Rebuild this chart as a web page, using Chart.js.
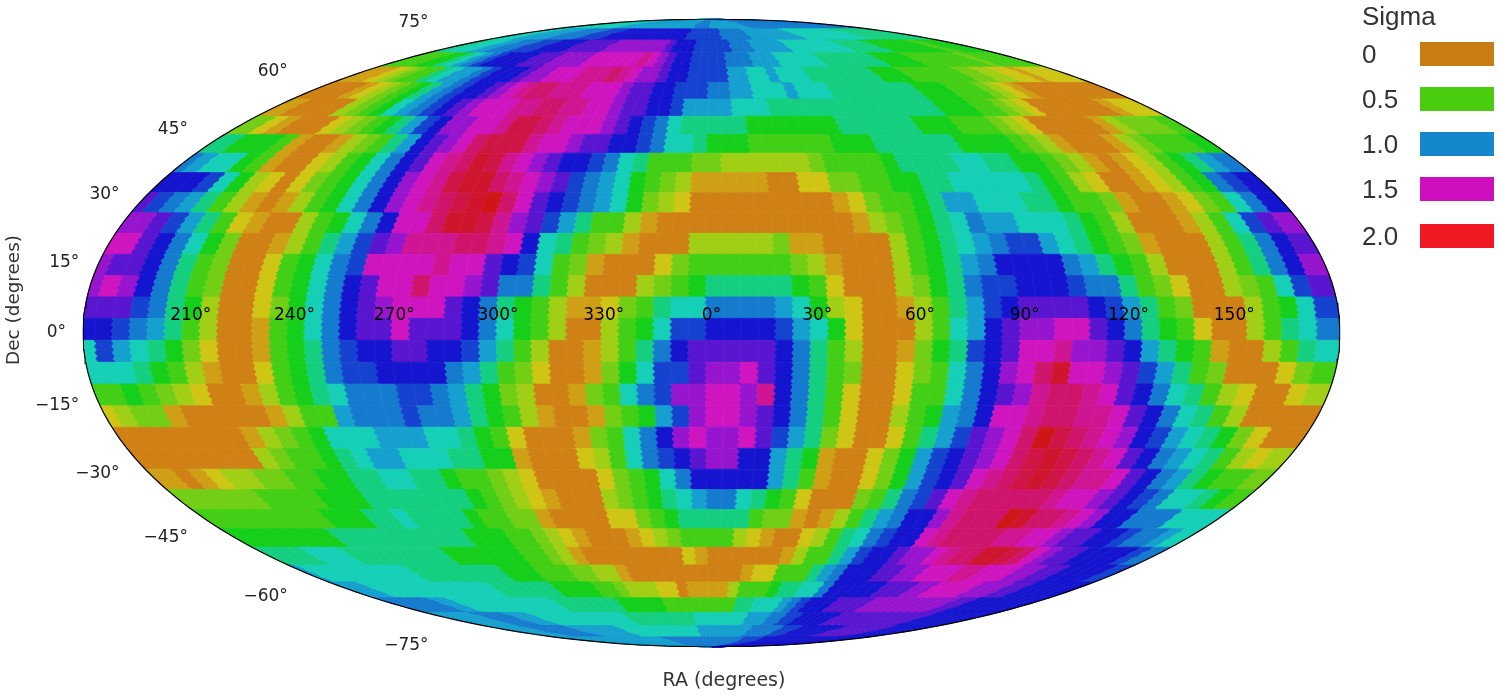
<!DOCTYPE html>
<html>
<head>
<meta charset="utf-8">
<title>Sigma map</title>
<script src="https://cdn.jsdelivr.net/npm/chart.js@4"></script>
<style>
  html, body { margin: 0; padding: 0; background: #fff; }
  #wrap { position: relative; width: 1500px; height: 698px; overflow: hidden; }
  canvas { position: absolute; left: 0; top: 0; }
  .leg { position: absolute; left: 1362px; font: 26px "Liberation Sans", Arial, sans-serif; color: #333; line-height: 30px; height: 30px; }
  .swatch { position: absolute; left: 1420px; width: 74px; height: 24px; }
</style>
</head>
<body>
<div id="wrap">
  <canvas id="map" width="1500" height="698"></canvas>
</div>
<script>
// declination band edges, north to south (degrees)
const decEdges = [90, 83.4, 78.4, 73.4, 68.4, 63.4, 58.4, 53.4, 48.4, 43.4, 38.4, 33.4, 28.4, 23.4, 18.4, 13.4, 8.4, 3.4,
  -1.7, -6.8, -11.9, -17, -22.1, -27.2, -32.3, -37.4, -42.5, -47.6, -52.7, -57.8, -62.9, -68, -73.1, -78.2, -83.3, -90];

// RA column edges, centred on RA 0 (degrees)
const raEdges = [-180];
for (let c = 1; c < 72; c++) raEdges.push(-181.6 + 5 * c);
raEdges.push(180);

// sigma x 10 for each declination band, left to right (RA 180 -> 0 -> 180)
const sigma10 = [
  [8,8,8,8,8,8,8,8,8,8,8,8,8,9,9,9,9,9,9,9,9,9,9,9,9,9,9,9,9,9,9,9,10,10,10,10, 9,9,9,9,9,9,9,9,9,9,10,10,10,10,10,10,10,10,10,10,10,10,10,10,10,10,10,10,10,10,10,10,10,10,10,10],
  [8,8,8,8,9,9,9,9,9,10,10,10,10,10,11,11,11,11,12,12,12,12,12,12,12,12,12,12,12,12,12,12,11,11,11,11, 11,11,10,10,10,10,10,9,9,9,9,9,9,9,9,9,8,8,8,8,8,8,8,8,8,8,8,7,7,7,7,7,7,7,7,7],
  [7,7,8,8,8,9,9,10,10,10,11,11,11,12,12,12,12,13,13,13,13,13,14,14,14,14,14,14,14,14,13,12,12,12,11,11, 11,11,11,10,10,10,9,9,9,9,9,8,8,8,8,8,8,8,8,7,7,7,7,7,6,6,6,6,6,6,6,5,5,6,6,6],
  [5,5,5,5,6,6,7,8,9,10,11,12,12,12,12,13,13,13,14,14,14,14,15,15,15,15,15,15,16,15,14,13,12,12,11,11, 11,11,10,10,10,9,9,9,8,8,8,8,8,7,7,7,7,7,7,7,6,6,6,6,5,5,5,5,5,5,5,4,5,5,5,5],
  [1,1,1,2,3,4,5,5,7,8,9,9,10,11,12,12,12,13,14,14,15,15,15,16,16,16,17,16,15,14,14,13,12,12,11,11, 11,11,9,9,8,8,9,8,8,8,7,7,7,7,7,7,7,6,6,6,5,5,5,5,5,5,4,4,3,3,2,2,1,2,2,2],
  [0,0,0,0,1,2,3,4,5,6,7,9,10,11,12,12,13,14,15,16,17,17,16,16,16,15,15,15,14,13,13,12,12,11,11,11, 10,10,9,9,8,8,8,9,8,8,8,7,7,7,7,7,7,7,7,6,6,6,5,5,5,4,3,2,1,0,0,0,0,0,0,0],
  [1,1,0,0,0,0,3,4,5,6,8,9,10,11,12,13,14,15,15,15,16,16,17,17,16,16,15,15,14,13,13,12,12,11,9,9, 9,9,8,8,8,7,7,7,7,7,7,7,7,7,7,7,7,7,7,6,6,6,5,5,4,3,2,0,0,0,0,0,0,1,2,2],
  [4,4,2,1,0,0,0,2,3,4,5,6,7,9,11,12,14,14,15,15,16,18,18,17,16,15,15,15,14,13,12,11,10,8,7,7, 7,7,7,6,6,6,6,6,6,6,7,7,7,7,7,7,6,6,6,5,5,5,4,3,2,0,0,0,0,0,1,3,4,4,4,5],
  [7,7,6,6,6,5,1,0,0,1,3,4,5,7,9,12,13,14,15,17,18,18,18,16,15,15,14,13,13,12,12,11,10,8,8,7, 6,6,6,5,5,5,5,5,5,6,6,6,7,7,7,7,7,7,6,6,6,6,5,4,3,1,0,0,0,1,3,4,5,5,5,6],
  [10,9,8,8,6,5,1,0,0,2,3,5,6,8,10,12,13,15,16,17,19,18,16,15,14,13,12,12,11,10,8,7,5,5,5,4, 4,3,3,3,3,3,3,4,5,5,5,5,6,7,7,7,7,8,8,7,7,6,6,5,4,3,1,0,1,2,3,5,6,7,9,10],
  [12,12,12,11,8,6,3,2,0,2,4,5,6,8,10,12,14,15,16,18,19,19,17,16,15,14,13,11,10,9,8,6,5,4,3,1, 1,1,1,1,0,0,2,2,4,4,5,5,6,6,7,7,8,8,8,8,8,7,6,5,3,2,0,0,1,2,3,5,6,10,11,12],
  [13,11,10,9,7,5,3,1,0,1,3,5,6,8,10,12,14,15,16,17,18,19,20,17,15,13,12,11,10,9,8,6,4,3,2,0, 0,0,0,0,0,0,0,0,1,2,4,5,5,6,7,9,9,8,8,8,7,7,6,5,5,4,1,0,0,1,2,4,5,8,10,12],
  [14,14,13,11,9,7,5,2,1,0,0,3,5,6,8,10,12,15,15,17,19,19,18,16,14,13,11,9,7,5,5,3,1,0,0,0, 0,0,0,0,0,0,0,0,0,1,3,4,5,6,7,8,10,9,9,8,8,8,7,6,5,3,0,0,0,1,3,5,8,11,13,14],
  [15,15,13,12,10,8,6,4,0,0,1,3,5,7,9,11,13,14,16,16,16,17,17,16,15,12,8,7,5,4,3,1,0,0,0,3, 3,3,3,3,4,1,1,0,0,0,0,3,5,6,7,8,9,10,11,11,9,8,7,6,5,4,1,0,0,0,3,5,7,10,12,13],
  [14,13,13,12,10,7,5,4,0,0,2,5,6,8,10,11,15,15,15,15,16,15,15,13,12,11,8,5,4,1,0,0,0,2,4,5, 5,5,5,5,5,4,3,1,0,0,0,3,5,6,7,9,10,12,12,12,12,10,9,7,6,5,3,0,0,0,3,5,7,10,12,14],
  [14,15,14,12,10,7,5,4,0,0,2,5,6,8,10,12,13,15,15,17,15,15,14,13,10,10,7,5,3,0,0,0,3,4,5,6, 7,7,7,7,7,6,5,2,0,0,0,3,4,6,7,10,11,11,12,12,12,11,10,10,7,5,4,2,0,0,3,4,5,8,11,13],
  [13,13,13,11,10,7,6,3,0,0,2,4,6,8,10,12,13,14,15,15,15,13,12,10,7,6,5,3,1,1,2,4,5,7,8,8, 10,10,10,10,9,8,6,3,2,0,0,1,3,5,7,9,11,12,13,13,13,13,12,11,9,7,5,4,0,0,0,3,5,6,8,11],
  [12,12,11,10,9,7,5,3,0,0,1,5,6,8,10,12,13,13,15,13,13,13,12,10,8,6,5,3,0,0,3,5,6,8,11,11, 12,12,12,12,11,9,8,6,2,0,0,0,3,5,8,9,12,13,14,14,15,15,13,12,10,7,6,5,2,0,0,3,5,7,8,10],
  [8,11,9,8,7,6,4,2,0,0,1,5,6,7,10,11,12,12,13,13,12,12,11,9,7,5,3,0,0,1,3,5,7,10,12,13, 13,13,13,13,12,10,7,5,3,0,0,1,4,6,7,11,12,13,15,15,16,14,14,13,12,9,7,6,5,1,0,0,3,5,7,8],
  [8,8,8,7,6,5,3,1,0,0,2,5,6,7,10,11,11,12,12,12,12,10,9,7,5,4,2,0,0,1,4,6,8,11,11,13, 14,14,15,13,12,10,7,5,4,0,0,2,4,5,8,10,12,14,15,17,19,15,15,14,13,11,9,7,5,4,0,0,0,2,4,5],
  [5,5,6,5,4,3,2,0,0,1,3,5,6,7,8,10,10,10,11,11,10,9,7,6,4,3,0,0,1,4,5,8,10,11,14,14, 15,15,14,16,12,10,7,5,2,0,0,2,5,5,8,10,12,13,14,16,17,17,16,15,13,12,10,8,7,5,3,2,0,0,2,3],
  [2,3,4,4,1,0,0,0,0,0,1,3,5,5,9,10,10,10,11,10,10,9,7,6,5,3,1,0,0,1,4,5,6,9,11,14, 15,15,14,13,12,10,7,5,2,0,0,3,5,6,9,10,12,15,15,16,17,17,16,16,15,13,12,10,8,7,5,3,0,0,0,0],
  [0,0,0,0,0,0,0,0,1,3,4,5,6,8,8,8,9,9,9,8,8,7,6,5,2,0,0,0,1,4,5,8,10,12,14,15, 14,14,15,13,11,9,7,4,2,0,0,2,5,7,9,11,13,14,15,17,20,18,17,16,15,14,12,11,9,8,7,6,4,2,0,0],
  [0,0,0,0,0,0,0,0,3,4,5,5,6,7,8,9,9,8,8,8,7,7,6,6,1,0,0,0,2,3,5,8,10,11,12,13, 14,14,12,12,9,7,6,1,0,0,2,4,6,9,11,12,13,14,15,17,18,19,18,17,16,15,13,12,10,9,8,7,5,3,2,3],
  [1,1,0,1,2,3,3,4,4,5,5,6,6,7,7,8,8,7,7,6,5,5,4,3,2,0,0,0,0,2,4,5,6,8,10,12, 12,12,12,12,9,7,5,1,0,0,2,4,6,9,11,12,13,15,16,17,18,19,18,17,16,16,15,13,12,10,9,7,6,5,5,4],
  [4,4,4,4,4,4,5,5,5,5,6,6,6,7,7,7,7,7,7,7,6,5,4,3,2,1,0,0,0,3,4,5,6,7,8,9, 10,10,8,7,6,5,2,0,0,0,4,5,7,10,11,13,15,16,17,17,17,17,17,16,15,15,14,13,12,11,10,8,8,7,6,5],
  [5,5,5,5,5,5,5,5,5,6,6,6,7,7,8,7,7,7,7,6,5,5,4,4,1,0,0,0,0,2,2,4,5,6,7,7, 7,7,7,5,4,4,1,0,1,3,5,7,9,10,12,12,14,16,17,17,17,20,19,17,17,16,15,14,12,12,10,10,10,8,8,8],
  [6,6,6,6,6,6,6,6,7,7,7,7,7,7,7,7,7,7,6,6,6,5,5,4,3,2,1,0,0,0,1,2,3,4,5,5, 5,5,3,2,1,0,0,2,3,5,7,8,10,11,12,12,15,16,17,17,17,17,16,16,15,15,14,13,13,12,12,11,10,10,9,8],
  [7,7,7,7,8,8,8,7,7,7,7,7,7,7,7,6,6,6,6,6,6,5,5,4,3,1,0,0,0,0,0,0,0,0,2,1, 0,0,0,0,0,0,1,3,5,5,7,9,11,12,12,13,14,14,15,16,17,17,19,19,18,17,15,14,13,13,12,12,12,12,11,10],
  [9,8,8,8,8,8,8,8,8,8,7,7,7,7,7,7,7,7,6,6,6,5,5,5,4,4,3,3,1,0,0,0,0,0,0,0, 0,0,0,1,2,2,5,5,5,7,9,10,12,12,12,13,13,14,14,15,15,15,16,16,15,15,15,14,14,13,13,12,12,12,12,11],
  [9,9,9,8,8,8,8,8,8,8,8,8,8,8,8,7,7,7,7,7,7,6,6,6,6,5,5,4,3,3,3,2,2,0,1,1, 1,1,3,5,5,5,6,7,7,8,8,10,12,12,12,12,12,13,13,13,14,14,15,15,15,15,14,14,14,13,13,12,12,12,12,12],
  [10,10,10,10,10,10,9,9,8,8,8,8,8,8,8,8,8,8,8,7,7,7,7,7,7,7,6,6,6,6,6,5,5,5,5,5, 5,5,5,7,7,8,8,8,9,10,11,12,12,12,13,13,13,13,14,14,14,14,14,14,14,14,14,13,13,12,12,12,12,12,12,12],
  [9,9,9,9,9,9,10,10,10,10,9,9,9,8,8,8,8,8,8,8,8,8,8,8,8,7,7,7,7,7,7,7,7,7,8,8, 8,8,8,8,8,9,9,9,10,10,11,11,12,12,12,12,12,13,13,13,13,13,13,13,13,13,13,13,13,12,12,12,12,12,12,12],
  [9,9,9,9,9,9,10,10,10,10,10,10,10,9,9,9,9,9,9,9,9,8,8,8,8,8,8,8,8,8,8,8,8,8,9,9, 9,9,9,9,9,9,9,10,10,10,10,10,11,11,11,12,12,12,12,12,12,12,13,13,13,13,13,13,13,13,12,12,12,12,12,12],
  [9,9,9,9,9,9,9,9,9,9,9,9,9,9,9,9,9,9,9,9,9,9,9,9,9,10,10,10,10,10,10,10,10,10,10,10, 10,10,10,10,10,10,10,10,11,11,11,11,11,12,12,12,12,12,12,12,12,12,12,12,12,12,12,12,12,12,12,12,12,12,12,12]
];

const raTicks = [210, 240, 270, 300, 330, 0, 30, 60, 90, 120, 150];
const raTickNudge = [3, 2, -3, -4, -3, 0, 1, -1, -1, -2, -1];
const decTicks = [75, 60, 45, 30, 15, 0, -15, -30, -45, -60, -75];

const legendLabels = ["0", "0.5", "1.0", "1.5", "2.0"];
const legendColors = ["#c87d14", "#4bcd0f", "#1487cd", "#cd0fbe", "#f01923"];
const legendTops = [42, 87, 132, 177, 224];

// colour hue for sigma x 10 = index
const sigmaHues = [35, 45, 57, 75, 90, 105, 122, 155, 172, 195, 207, 225, 240, 262, 282, 305, 320, 332, 344, 352, 360];

function hueColor(h) {
  const s = 0.9, v = 0.81;
  const f = n => {
    const k = (n + h / 60) % 6;
    return Math.round(255 * (v - v * s * Math.max(0, Math.min(k, 4 - k, 1))));
  };
  return `rgb(${f(5)},${f(3)},${f(1)})`;
}

// Mollweide projection, degrees in, projected x/y out
function project(lon, lat) {
  const phi = lat * Math.PI / 180;
  let t = phi;
  if (Math.abs(lat) >= 90) {
    t = Math.sign(lat) * Math.PI / 2;
  } else {
    for (let i = 0; i < 30; i++) {
      t -= (2 * t + Math.sin(2 * t) - Math.PI * Math.sin(phi)) / (2 + 2 * Math.cos(2 * t));
    }
  }
  return { x: (2 * Math.SQRT2 / 180) * lon * Math.cos(t), y: Math.SQRT2 * Math.sin(t) };
}

const outline = [];
for (let lat = -90; lat <= 90; lat += 1) outline.push(project(-180, lat));
for (let lat = 90; lat >= -90; lat -= 1) outline.push(project(180, lat));

const cellPlugin = {
  id: "cells",
  beforeDatasetsDraw(chart) {
    const { ctx, scales } = chart;
    const px = p => [scales.x.getPixelForValue(p.x), scales.y.getPixelForValue(p.y)];
    // one side of a cell, stepped about 3px at a time with the saw edge of the original
    const side = (lon, top, bottom) => {
      const h = px(project(lon, bottom))[1] - px(project(lon, top))[1];
      const n = Math.max(2, Math.round(h / 3));
      const pts = [];
      for (let i = 0; i <= n; i++) {
        const p = px(project(lon, top + (bottom - top) * i / n));
        if (Math.abs(lon) < 180) p[0] += i % 2 ? 1.2 : -1.2;
        pts.push(p);
      }
      return pts;
    };
    ctx.save();
    ctx.lineWidth = 0.7;
    sigma10.forEach((row, r) => {
      const top = decEdges[r], bottom = decEdges[r + 1];
      row.forEach((v, c) => {
        const pts = side(raEdges[c], top, bottom).concat(side(raEdges[c + 1], top, bottom).reverse());
        ctx.beginPath();
        pts.forEach((p, i) => (i ? ctx.lineTo(p[0], p[1]) : ctx.moveTo(p[0], p[1])));
        ctx.closePath();
        ctx.fillStyle = ctx.strokeStyle = hueColor(sigmaHues[v]);
        ctx.fill();
        ctx.stroke();
      });
    });
    ctx.restore();
  },
  afterDatasetsDraw(chart) {
    const { ctx, scales } = chart;
    ctx.save();
    ctx.fillStyle = "#000";
    ctx.font = '17px "DejaVu Sans"';
    ctx.textBaseline = "middle";

    ctx.textAlign = "center";
    raTicks.forEach((ra, i) => {
      const p = project(ra > 180 ? ra - 360 : ra, 0);
      ctx.fillText(ra + "°", scales.x.getPixelForValue(p.x) + raTickNudge[i], scales.y.getPixelForValue(p.y) - 17);
    });

    ctx.fillStyle = "#222";
    ctx.textAlign = "right";
    decTicks.forEach(dec => {
      const p = project(-180, dec);
      const x = scales.x.getPixelForValue(p.x) - 17;
      const y = scales.y.getPixelForValue(p.y) + (dec < 0 ? 2 : 0) - 29 * p.y / Math.SQRT2;
      ctx.fillText(String(dec).replace("-", "\u2212") + "°", x, y);
    });

    ctx.fillStyle = "#333";
    ctx.textAlign = "center";
    ctx.font = '19px "DejaVu Sans"';
    ctx.fillText("RA (degrees)", 724, 681);
    ctx.font = '18.4px "DejaVu Sans"';
    ctx.translate(14, 300);
    ctx.rotate(-Math.PI / 2);
    ctx.fillText("Dec (degrees)", 0, 0);
    ctx.restore();
  }
};

new Chart(document.getElementById("map"), {
  type: "scatter",
  data: {
    datasets: [{
      label: "outline",
      data: outline,
      showLine: true,
      borderColor: "#000",
      borderWidth: 1.2,
      pointRadius: 0,
      tension: 0
    }]
  },
  options: {
    responsive: false,
    animation: false,
    layout: { padding: { left: 83, right: 160, top: 19, bottom: 51 } },
    plugins: { legend: { display: false }, tooltip: { enabled: false } },
    scales: {
      x: { display: false, min: -2 * Math.SQRT2, max: 2 * Math.SQRT2 },
      y: { display: false, min: -Math.SQRT2, max: Math.SQRT2 }
    }
  },
  plugins: [cellPlugin]
});

// legend, right of the map
const wrap = document.getElementById("wrap");
const addLabel = (text, top) => {
  const d = document.createElement("div");
  d.className = "leg";
  d.style.top = top + "px";
  d.textContent = text;
  wrap.appendChild(d);
};
addLabel("Sigma", 1);
legendLabels.forEach((label, i) => {
  addLabel(label, legendTops[i] - 3);
  const s = document.createElement("div");
  s.className = "swatch";
  s.style.top = legendTops[i] + "px";
  s.style.background = legendColors[i];
  wrap.appendChild(s);
});
</script>
</body>
</html>
